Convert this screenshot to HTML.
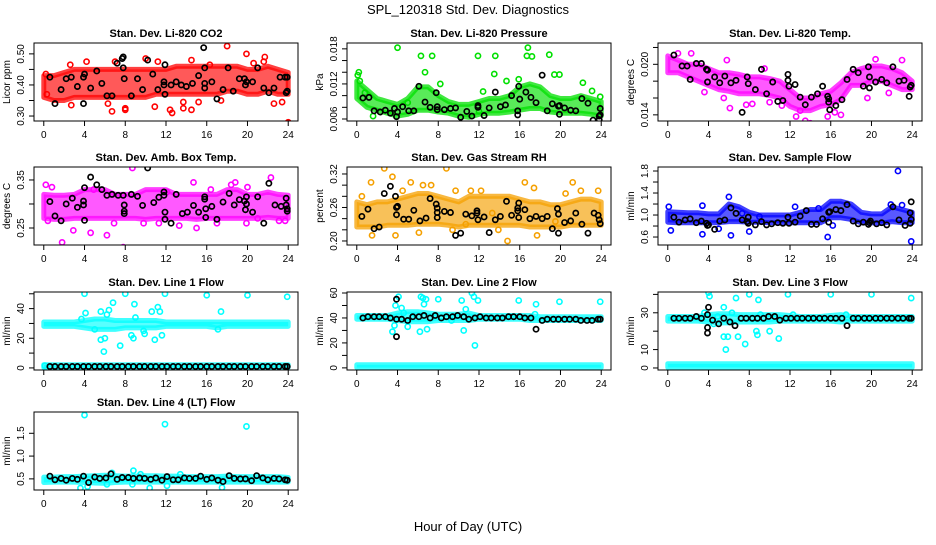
<!DOCTYPE html>
<html><head><meta charset="utf-8">
<style>
html,body{margin:0;padding:0;background:#fff;}
svg text{font-family:"Liberation Sans",Arial,sans-serif;}
</style></head>
<body>
<svg id="chart" width="936" height="540" viewBox="0 0 936 540" xmlns="http://www.w3.org/2000/svg">
<rect width="936" height="540" fill="#fff"/>
<text x="468" y="14" font-size="13" text-anchor="middle">SPL_120318  Std. Dev. Diagnostics</text>
<text x="468" y="531" font-size="13" text-anchor="middle">Hour of Day (UTC)</text>
</svg>
<script>
const hours = [0,1,2,3,4,5,6,7,8,9,10,11,12,13,14,15,16,17,18,19,20,21,22,23,24];
const xTicks = [0,4,8,12,16,20,24];
const blackHours = [0.6,1.1,1.7,2.2,2.8,3.3,3.9,4.4,5.0,5.5,6.1,6.6,7.2,7.7,8.3,8.8,9.4,9.9,10.5,11.0,11.6,12.1,12.7,13.2,13.8,14.3,14.9,15.4,16.0,16.5,17.1,17.6,18.2,18.7,19.3,19.8,20.4,20.9,21.5,22.0,22.6,23.1,23.7];

// CO2
const co2Lo = [0.36,0.35,0.35,0.36,0.36,0.36,0.36,0.36,0.36,0.36,0.36,0.37,0.37,0.37,0.37,0.37,0.37,0.37,0.38,0.38,0.37,0.37,0.38,0.37,0.37];
const co2Hi = [0.43,0.43,0.44,0.45,0.45,0.45,0.45,0.45,0.45,0.45,0.45,0.45,0.45,0.46,0.46,0.46,0.46,0.46,0.46,0.46,0.45,0.45,0.46,0.45,0.44];
const co2Pts = [[6.7,0.315],[8,0.32],[8,0.325],[12.4,0.32],[12.6,0.31],[13.7,0.345],[13.7,0.325],[14.5,0.32],[18,0.525],[19.9,0.50],[21.7,0.49],[21.6,0.475],[24,0.28],[10,0.485],[14.5,0.48],[7,0.475],[4.2,0.475],[2.6,0.465],[23.4,0.345],[22.6,0.34],[20.6,0.47],[11.2,0.475],[16.3,0.465],[2.7,0.335],[6.3,0.34],[10.9,0.33],[15.2,0.345],[17.4,0.35],[0.2,0.435],[0.3,0.37]];
const co2Blk = [[0.6,0.425],[1.1,0.34],[1.7,0.385],[2.2,0.42],[2.7,0.425],[3.3,0.395],[3.9,0.425],[3.9,0.34],[4.0,0.435],[4.6,0.39],[5.2,0.445],[5.7,0.405],[6.2,0.365],[6.7,0.365],[7.2,0.47],[7.7,0.485],[7.8,0.49],[7.8,0.455],[7.9,0.42],[8.6,0.365],[9.2,0.42],[9.7,0.385],[10.2,0.48],[10.7,0.435],[11.2,0.385],[11.8,0.41],[11.8,0.40],[11.9,0.465],[11.9,0.37],[12.5,0.40],[13.0,0.41],[13.5,0.40],[14.0,0.395],[14.6,0.405],[15.2,0.43],[15.7,0.52],[15.8,0.405],[15.8,0.39],[15.8,0.455],[16.5,0.41],[17.0,0.355],[17.6,0.385],[18.1,0.455],[18.6,0.38],[19.2,0.42],[19.7,0.42],[19.8,0.40],[19.9,0.41],[20.5,0.41],[21.0,0.455],[21.6,0.39],[22.1,0.375],[22.6,0.39],[23.2,0.425],[23.7,0.425],[23.8,0.375],[23.9,0.38],[23.9,0.425]];
const co2Ticks = [0.30,0.35,0.40,0.45,0.50];
const co2Labels = ["0.30","","0.40","","0.50"];

// Pressure
const presLo = [0.0095,0.008,0.0075,0.007,0.0065,0.0068,0.0075,0.0075,0.0072,0.007,0.0065,0.0063,0.0068,0.007,0.007,0.0072,0.0075,0.0078,0.0078,0.0072,0.007,0.007,0.007,0.0068,0.0065];
const presHi = [0.0125,0.011,0.0095,0.009,0.0085,0.0095,0.0115,0.0115,0.010,0.009,0.0085,0.0085,0.009,0.0095,0.0095,0.0100,0.0115,0.012,0.0115,0.010,0.0095,0.0095,0.0100,0.0095,0.009];
const presPts = [[4,0.0182],[6.3,0.0168],[7.4,0.0168],[6.7,0.014],[11.9,0.0168],[13.6,0.0168],[13.5,0.0137],[16.8,0.0182],[16.7,0.0168],[17.2,0.0167],[18.9,0.017],[19.4,0.0136],[19.9,0.0136],[14.7,0.0125],[15.9,0.0128],[22.2,0.0122],[23.1,0.0108],[23.9,0.0098],[0.1,0.0135],[0.2,0.014],[0.3,0.0125],[5.0,0.0088],[12.4,0.0107],[8.2,0.0120],[1.6,0.0065],[12,0.0073],[0.8,0.0105]];
const presBlk = [[0.6,0.0096],[1.2,0.0097],[1.7,0.0074],[2.3,0.0072],[2.8,0.0075],[3.3,0.0070],[3.7,0.0078],[3.9,0.0064],[4,0.0072],[4.5,0.0081],[5.1,0.0074],[5.6,0.0074],[6.1,0.0116],[6.7,0.0089],[7.2,0.0080],[7.8,0.0105],[7.9,0.0081],[7.9,0.0076],[8.6,0.0076],[9.2,0.0078],[9.7,0.0079],[10.2,0.0063],[10.8,0.0073],[11.3,0.0065],[11.9,0.0083],[11.9,0.0080],[12.5,0.0066],[13.0,0.0079],[13.6,0.0106],[14.1,0.0081],[14.6,0.0084],[15.2,0.0100],[15.8,0.0074],[15.8,0.0067],[15.9,0.0116],[16.0,0.0094],[16.6,0.0106],[17.1,0.0097],[17.6,0.0088],[18.2,0.0135],[18.7,0.0074],[19.2,0.0086],[19.8,0.0082],[19.9,0.0068],[19.9,0.0083],[20.4,0.0079],[21.0,0.0075],[21.5,0.0074],[22.1,0.0095],[22.7,0.0087],[23.2,0.0058],[23.8,0.0059],[23.8,0.0065],[23.9,0.0078],[23.9,0.0067]];
const presTicks = [0.006,0.008,0.010,0.012,0.014,0.016,0.018];
const presLabels = ["0.006","","","0.012","","","0.018"];

// Li-820 Temp
const tempLo = [0.019,0.019,0.0185,0.018,0.0175,0.017,0.0168,0.0165,0.0165,0.0165,0.0163,0.016,0.015,0.0145,0.0145,0.015,0.0152,0.0158,0.0175,0.0175,0.018,0.018,0.0175,0.017,0.017];
const tempHi = [0.021,0.0205,0.020,0.020,0.0195,0.019,0.019,0.0188,0.0185,0.0185,0.0183,0.018,0.017,0.016,0.016,0.0165,0.0168,0.0178,0.019,0.0195,0.0198,0.0198,0.0195,0.019,0.018];
const tempPts = [[1,0.0213],[2.3,0.0213],[6.1,0.0148],[7.7,0.0152],[8.3,0.0153],[10.0,0.0155],[11.2,0.0151],[12.6,0.0138],[13.5,0.0133],[14.0,0.0130],[15.7,0.0138],[16.4,0.0143],[3.6,0.0167],[5.5,0.016],[9.5,0.0195],[17.0,0.0140],[19.6,0.016],[21.7,0.0166],[23.0,0.0205],[20.4,0.0206],[13.0,0.0145],[5.8,0.0205]];
const tempBlk = [[0.6,0.0211],[1.4,0.0198],[1.9,0.0198],[2.2,0.0182],[2.8,0.0201],[3.3,0.0201],[3.8,0.0194],[3.9,0.0193],[3.9,0.0179],[4.6,0.0185],[5.1,0.0178],[5.6,0.0186],[6.2,0.0178],[6.7,0.0181],[7.3,0.0143],[7.8,0.0185],[7.9,0.0177],[8.6,0.0170],[9.2,0.0194],[9.7,0.0165],[10.3,0.0179],[10.8,0.0156],[11.3,0.0157],[11.8,0.0188],[11.8,0.0181],[11.9,0.0174],[12.5,0.0176],[13.0,0.0161],[13.5,0.0152],[14.1,0.0161],[14.7,0.0165],[15.2,0.0174],[15.7,0.0162],[15.8,0.0159],[15.8,0.0155],[15.9,0.0146],[16.5,0.0151],[17.1,0.0158],[17.6,0.0182],[18.2,0.0194],[18.7,0.0190],[19.2,0.0174],[19.7,0.0197],[19.8,0.0185],[19.8,0.0172],[20.4,0.0179],[21.0,0.0182],[21.5,0.0178],[22.1,0.0197],[22.7,0.0180],[23.2,0.0181],[23.7,0.0162],[23.8,0.0173],[23.9,0.0175]];
const tempTicks = [0.014,0.016,0.018,0.020,0.022];
const tempLabels = ["0.014","","","0.020",""];

// Amb box temp
const ambLo = [0.27,0.268,0.268,0.27,0.27,0.27,0.27,0.27,0.27,0.27,0.268,0.27,0.27,0.27,0.27,0.268,0.27,0.27,0.27,0.27,0.27,0.27,0.272,0.27,0.27];
const ambHi = [0.32,0.318,0.318,0.32,0.33,0.33,0.33,0.32,0.32,0.32,0.33,0.33,0.33,0.32,0.32,0.32,0.32,0.32,0.33,0.33,0.32,0.32,0.325,0.32,0.318];
const ambPts = [[0.2,0.34],[0.8,0.335],[1.8,0.22],[4.6,0.24],[6.2,0.235],[7.8,0.21],[8.7,0.375],[9.8,0.26],[11.3,0.26],[13.3,0.255],[15.0,0.25],[16.4,0.33],[18.4,0.34],[18.8,0.345],[19.9,0.26],[22.3,0.355],[23.1,0.265],[23.7,0.265],[0.4,0.265],[2.9,0.245],[4.9,0.33],[6.9,0.26],[12.1,0.325],[17.0,0.26],[21,0.27],[14.7,0.345],[20.0,0.335]];
const ambBlk = [[0.6,0.305],[1.1,0.275],[1.7,0.265],[2.2,0.30],[2.8,0.312],[3.3,0.293],[3.9,0.306],[3.9,0.298],[4.0,0.334],[4.0,0.266],[4.6,0.356],[5.2,0.34],[5.7,0.33],[6.2,0.318],[6.7,0.32],[7.3,0.318],[7.8,0.318],[7.9,0.298],[7.9,0.285],[7.9,0.28],[8.6,0.32],[9.2,0.316],[9.7,0.297],[10.2,0.375],[10.8,0.303],[11.3,0.314],[11.8,0.325],[11.8,0.318],[11.9,0.283],[11.9,0.268],[12.5,0.26],[13.0,0.32],[13.6,0.28],[14.1,0.283],[14.7,0.297],[15.2,0.283],[15.8,0.315],[15.8,0.31],[15.9,0.272],[15.9,0.29],[16.5,0.295],[17.0,0.268],[17.6,0.304],[18.2,0.322],[18.7,0.298],[19.2,0.309],[19.7,0.306],[19.8,0.288],[19.9,0.315],[19.9,0.30],[20.5,0.283],[21.0,0.315],[21.6,0.26],[22.1,0.343],[22.7,0.298],[23.3,0.295],[23.8,0.312],[23.8,0.298],[23.9,0.285],[23.9,0.29]];
const ambTicks = [0.25,0.30,0.35];
const ambLabels = ["0.25","","0.35"];

// Gas stream RH
const rhLo = [0.225,0.225,0.225,0.228,0.228,0.228,0.23,0.23,0.23,0.228,0.225,0.228,0.228,0.228,0.228,0.228,0.228,0.225,0.225,0.225,0.225,0.228,0.228,0.228,0.228];
const rhHi = [0.27,0.265,0.27,0.27,0.275,0.28,0.285,0.285,0.28,0.275,0.27,0.28,0.28,0.28,0.28,0.28,0.275,0.27,0.27,0.265,0.265,0.27,0.275,0.275,0.27];
const rhPts = [[0.5,0.28],[1.4,0.305],[1.5,0.21],[2.7,0.33],[3.5,0.315],[4.5,0.29],[5.3,0.305],[6.5,0.30],[7.3,0.30],[8.8,0.33],[9.7,0.29],[12.2,0.29],[13.3,0.25],[14.6,0.34],[14.8,0.2],[16.5,0.305],[17.4,0.295],[17.7,0.21],[19.5,0.235],[20.5,0.285],[21.2,0.305],[22.0,0.29],[23.7,0.29],[11.2,0.29],[3.8,0.21],[9.4,0.22],[10.7,0.23],[13.9,0.22],[6.1,0.215]];
const rhBlk = [[0.5,0.244],[1.1,0.257],[1.7,0.222],[2.2,0.225],[2.7,0.285],[3.3,0.298],[3.8,0.28],[3.9,0.26],[3.9,0.247],[4.0,0.262],[4.6,0.239],[5.1,0.239],[5.6,0.255],[6.2,0.236],[6.8,0.241],[7.2,0.276],[7.8,0.266],[7.9,0.259],[7.9,0.251],[7.9,0.242],[8.6,0.253],[9.2,0.251],[9.7,0.210],[10.2,0.214],[10.7,0.248],[11.3,0.245],[11.8,0.25],[11.8,0.254],[11.9,0.238],[12.5,0.243],[13.0,0.215],[13.6,0.238],[14.1,0.244],[14.7,0.271],[15.2,0.246],[15.8,0.254],[15.8,0.259],[15.9,0.268],[15.9,0.242],[16.5,0.256],[17.0,0.24],[17.6,0.244],[18.2,0.24],[18.7,0.244],[19.2,0.222],[19.7,0.258],[19.8,0.248],[19.8,0.214],[20.4,0.233],[21.0,0.236],[21.5,0.25],[22.1,0.230],[22.7,0.214],[23.3,0.250],[23.7,0.246],[23.8,0.238],[23.9,0.231]];
const rhTicks = [0.20,0.22,0.24,0.26,0.28,0.30,0.32];
const rhLabels = ["0.20","","","0.26","","","0.32"];

// Sample flow
const sfLo = [0.87,0.86,0.86,0.86,0.86,0.86,0.88,0.88,0.87,0.87,0.86,0.86,0.86,0.86,0.86,0.86,0.95,0.95,0.92,0.86,0.86,0.85,0.88,0.86,0.86];
const sfHi = [1.06,1.05,1.04,1.04,1.02,1.02,1.2,1.15,1.05,1.0,1.0,1.0,1.0,1.05,1.1,1.1,1.25,1.25,1.2,1.05,1.02,1.02,1.15,1.1,1.05];
const sfPts = [[0.1,1.15],[0.3,0.72],[3.4,1.17],[3.4,0.65],[5.0,0.75],[6.0,1.33],[6.2,0.63],[8.0,0.70],[15.7,0.60],[22.6,1.8],[23.9,0.52],[12.5,1.15],[14.8,1.12],[16.2,0.81],[21.9,1.19],[23,1.18],[7.3,1.03],[9,0.97]];
const sfBlk = [[0.6,0.96],[1.1,0.87],[1.7,0.91],[2.2,0.93],[2.8,0.86],[3.3,0.89],[3.8,0.85],[3.9,0.81],[4.0,0.82],[4.6,0.74],[5.1,0.89],[5.6,0.91],[6.2,1.13],[6.7,1.03],[7.3,0.91],[7.8,0.88],[7.9,0.96],[7.9,0.85],[8.6,0.82],[9.2,0.88],[9.7,0.82],[10.2,0.84],[10.8,0.86],[11.3,0.85],[11.8,0.96],[11.9,0.85],[12.5,0.87],[13.0,0.98],[13.6,1.08],[14.1,0.83],[14.6,0.83],[15.2,0.93],[15.8,0.87],[15.8,1.05],[15.9,1.06],[16.5,1.10],[17.0,1.08],[17.6,1.19],[18.2,0.89],[18.7,0.84],[19.2,0.87],[19.7,0.83],[19.8,0.86],[19.9,0.89],[20.5,0.84],[21.0,0.86],[21.5,0.82],[22.1,1.15],[22.7,0.91],[23.3,0.81],[23.8,0.85],[23.8,1.04],[23.9,1.24],[23.9,0.92]];
const sfTicks = [0.6,0.8,1.0,1.2,1.4,1.6,1.8];
const sfLabels = ["0.6","","1.0","","1.4","","1.8"];

// Line 1
const l1Lo = [28,28,28,28,27,26,26,26,27,27,27,27,28,28,28,28,28,27,28,28,28,28,28,28,28];
const l1Hi = [31,31,31,31,32,33,33,32,32,32,32,32,31,31,31,31,31,31,31,31,31,31,31,31,31];
const l1ZeroLo = [0.3,0.3,0.3,0.3,0.3,0.3,0.3,0.3,0.3,0.3,0.3,0.3,0.3,0.3,0.3,0.3,0.3,0.3,0.3,0.3,0.3,0.3,0.3,0.3,0.3];
const l1ZeroHi = [2.2,2.2,2.2,2.2,2.2,2.2,2.2,2.2,2.2,2.2,2.2,2.2,2.2,2.2,2.2,2.2,2.2,2.2,2.2,2.2,2.2,2.2,2.2,2.2,2.2];
const l1Pts = [[4,50],[4.1,37],[3.7,33],[5.6,38],[5.6,19],[5.9,11],[6.2,36],[6.4,39],[6.8,44],[7.5,15],[8,50],[8.6,22],[8.8,20],[8.9,43],[9.0,34],[9.8,25],[9.9,23],[10.6,38],[10.9,19],[11.2,41],[11.4,38],[11.6,22],[11.9,50],[16.0,49],[17.4,38],[17.1,26],[20.0,49],[23.9,48],[5.0,26],[6.0,20],[0.1,1.5]];
const l1BlkVals = [1,1,1,1,1,1,1,1,1,1,1,1,1,1,1,1,1,1,1,1,1,1,1,1,1,1,1,1,1,1,1,1,1,1,1,1,1,1,1,1,1,1,1];
const l1Extra = [[23.9,1]];
const l1Ticks = [0,10,20,30,40,50];
const l1Labels = ["0","","20","","40",""];

// Line 2
const l2Lo = [39,39,39,39,38,37,37,37,38,38,38,38,39,39,39,39,39,38,38,38,38,38,38,38,38];
const l2Hi = [42,42,42,42,44,45,45,44,43,43,43,44,42,42,42,42,42,42,41,41,41,41,41,41,41];
const l2ZeroLo = [0.2,0.2,0.2,0.2,0.2,0.2,0.2,0.2,0.2,0.2,0.2,0.2,0.2,0.2,0.2,0.2,0.2,0.2,0.2,0.2,0.2,0.2,0.2,0.2,0.2];
const l2ZeroHi = [2.5,2.5,2.5,2.5,2.5,2.5,2.5,2.5,2.5,2.5,2.5,2.5,2.5,2.5,2.5,2.5,2.5,2.5,2.5,2.5,2.5,2.5,2.5,2.5,2.5];
const l2Pts = [[3.5,29],[3.7,34],[3.8,50],[4.1,57],[4.4,48],[4.6,44],[5.0,33],[5.4,40],[6.2,29],[6.3,57],[6.5,56],[6.6,51],[6.9,31],[6.8,55],[8.0,55],[9.3,38],[10.3,54],[10.5,30],[10.7,47],[11.3,60],[11.5,57],[11.6,18],[11.9,54],[15.9,54],[17.5,43],[17.6,51],[19.9,53],[23.9,53]];
const l2BlkVals = [40,41,41,41,41,40,39,39,38,41,41,42,40,42,40,41,41,42,41,39,40,41,40,40,40,40,41,41,41,40,40,31,38,39,39,39,39,39,39,38,38,38,39];
const l2Extra = [[3.9,55],[3.9,25],[23.9,39]];
const l2Ticks = [0,10,20,30,40,50,60];
const l2Labels = ["0","","20","","40","","60"];

// Line 3
const l3Lo = [25.5,25.5,25.5,25.5,25,24.5,24.5,25,25,25,25,25.5,25.5,25.5,25.5,25.5,25.5,25,25.5,25.5,25.5,25.5,25.5,25.5,25.5];
const l3Hi = [28,28,28,28,29,29.5,29.5,29,29,29,29,29,28.5,28,28,28,28.5,29,28,28,28,28,28,28,28];
const l3ZeroLo = [0.3,0.3,0.3,0.3,0.3,0.3,0.3,0.3,0.3,0.3,0.3,0.3,0.3,0.3,0.3,0.3,0.3,0.3,0.3,0.3,0.3,0.3,0.3,0.3,0.3];
const l3ZeroHi = [2.3,2.3,2.3,2.3,2.3,2.3,2.3,2.3,2.3,2.3,2.3,2.3,2.3,2.3,2.3,2.3,2.3,2.3,2.3,2.3,2.3,2.3,2.3,2.3,2.3];
const l3Pts = [[3.6,30],[4.0,41],[4.1,39],[5.5,33],[5.5,17],[5.7,10],[5.9,17],[6.7,38],[6.9,17],[7.6,13],[8,40],[8.9,37],[8.7,20],[8.8,18],[9.1,29],[10.0,20],[10.9,16],[11.8,40],[12.3,29],[16.0,40],[17.5,29],[20.0,40],[23.9,38],[4.9,28],[6.3,30],[4.5,24]];
const l3BlkVals = [27,27,27,27,28,27,22,26,24,27,25,23,27,27,27,27,27,28,28,26,27,27,27,27,27,27,27,27,27,27,27,23,27,27,27,27,27,27,27,27,27,27,27];
const l3Extra = [[3.9,19],[4.0,33],[3.9,29],[23.9,27]];
const l3Ticks = [0,10,20,30,40];
const l3Labels = ["0","10","","30",""];

// Line 4
const l4Lo = [0.42,0.43,0.43,0.43,0.42,0.41,0.40,0.42,0.43,0.43,0.43,0.43,0.43,0.43,0.43,0.43,0.43,0.43,0.43,0.43,0.43,0.43,0.43,0.43,0.43];
const l4Hi = [0.54,0.54,0.55,0.55,0.56,0.57,0.58,0.57,0.56,0.56,0.57,0.57,0.56,0.56,0.55,0.55,0.55,0.55,0.56,0.55,0.55,0.55,0.55,0.55,0.53];
const l4Pts = [[4,1.9],[11.9,1.7],[19.9,1.65],[3.6,0.3],[4.3,0.33],[8.8,0.68],[10.4,0.3],[12.1,0.35],[17.5,0.31],[6.7,0.63],[9.5,0.6],[13.4,0.6],[8.7,0.38],[6.2,0.38]];
const l4BlkVals = [0.56,0.48,0.51,0.47,0.51,0.49,0.56,0.42,0.54,0.51,0.52,0.61,0.49,0.53,0.53,0.51,0.52,0.51,0.49,0.52,0.47,0.55,0.48,0.48,0.52,0.51,0.51,0.56,0.49,0.52,0.47,0.44,0.57,0.51,0.5,0.5,0.46,0.57,0.52,0.48,0.51,0.5,0.48];
const l4Extra = [[23.9,0.47]];
const l4Ticks = [0.5,1.0,1.5];
const l4Labels = ["0.5","1.0","1.5"];

const svg = document.getElementById('chart');
const NS = 'http://www.w3.org/2000/svg';
function mk(tag, attrs){ const e=document.createElementNS(NS,tag); for(const k in attrs) e.setAttribute(k,attrs[k]); return e; }

const COLX=[34,347,658], ROWY=[43,167,292,412], W=264, H=78;

const panels = [
 {id:'co2', title:'Stan. Dev. Li-820 CO2', ylab:'Licor ppm', c:0,r:0, ymin:0.284,ymax:0.535, col:'#ff0000', lo:co2Lo,hi:co2Hi,pts:co2Pts,blk:co2Blk,ticks:co2Ticks,labels:co2Labels},
 {id:'pressure', title:'Stan. Dev. Li-820 Pressure', ylab:'kPa', c:1,r:0, ymin:0.00566,ymax:0.0190, col:'#00e000', lo:presLo,hi:presHi,pts:presPts,blk:presBlk,ticks:presTicks,labels:presLabels},
 {id:'temp', title:'Stan. Dev. Li-820 Temp.', ylab:'degrees C', c:2,r:0, ymin:0.01327,ymax:0.02253, col:'#ff00ff', lo:tempLo,hi:tempHi,pts:tempPts,blk:tempBlk,ticks:tempTicks,labels:tempLabels},
 {id:'amb-temp', title:'Stan. Dev. Amb. Box Temp.', ylab:'degrees C', c:0,r:1, ymin:0.2146,ymax:0.377, col:'#ff00ff', lo:ambLo,hi:ambHi,pts:ambPts,blk:ambBlk,ticks:ambTicks,labels:ambLabels},
 {id:'rh', title:'Stan. Dev. Gas Stream RH', ylab:'percent', c:1,r:1, ymin:0.1928,ymax:0.3325, col:'#f5a000', lo:rhLo,hi:rhHi,pts:rhPts,blk:rhBlk,ticks:rhTicks,labels:rhLabels},
 {id:'sample-flow', title:'Stan. Dev. Sample Flow', ylab:'ml/min', c:2,r:1, ymin:0.455,ymax:1.873, col:'#0000ff', lo:sfLo,hi:sfHi,pts:sfPts,blk:sfBlk,ticks:sfTicks,labels:sfLabels},
 {id:'line1', title:'Stan. Dev. Line 1 Flow', ylab:'ml/min', c:0,r:2, ymin:-1.4,ymax:51.2, col:'#00ffff', lo:l1Lo,hi:l1Hi,zlo:l1ZeroLo,zhi:l1ZeroHi,pts:l1Pts,blkVals:l1BlkVals,extra:l1Extra,ticks:l1Ticks,labels:l1Labels},
 {id:'line2', title:'Stan. Dev. Line 2 Flow', ylab:'ml/min', c:1,r:2, ymin:-1.7,ymax:60.8, col:'#00ffff', lo:l2Lo,hi:l2Hi,zlo:l2ZeroLo,zhi:l2ZeroHi,pts:l2Pts,blkVals:l2BlkVals,extra:l2Extra,ticks:l2Ticks,labels:l2Labels},
 {id:'line3', title:'Stan. Dev. Line 3 Flow', ylab:'ml/min', c:2,r:2, ymin:-1.1,ymax:41.3, col:'#00ffff', lo:l3Lo,hi:l3Hi,zlo:l3ZeroLo,zhi:l3ZeroHi,pts:l3Pts,blkVals:l3BlkVals,extra:l3Extra,ticks:l3Ticks,labels:l3Labels},
 {id:'line4', title:'Stan. Dev. Line 4 (LT) Flow', ylab:'ml/min', c:0,r:3, ymin:0.256,ymax:1.967, col:'#00ffff', lo:l4Lo,hi:l4Hi,pts:l4Pts,blkVals:l4BlkVals,extra:l4Extra,ticks:l4Ticks,labels:l4Labels}
];

panels.forEach(p=>{
  const x0=COLX[p.c], y0=ROWY[p.r];
  const g=mk('g',{});
  
  
  svg.appendChild(g);
  const sx=t=>x0+(t+0.96)/25.92*W;
  const sy=v=>y0+H-(v-p.ymin)/(p.ymax-p.ymin)*H;
  const clip='clip-'+p.id;
  const cp=mk('clipPath',{id:clip}); cp.appendChild(mk('rect',{x:x0,y:y0,width:W,height:H})); g.appendChild(cp);
  const inner=mk('g',{'clip-path':'url(#'+clip+')'}); g.appendChild(inner);
  function band(lo,hi,name){
    let d='M'+hours.map((h,i)=>sx(h).toFixed(1)+','+sy(hi[i]).toFixed(1)).join(' L');
    d+=' L'+hours.slice().reverse().map((h,j)=>{const i=hours.length-1-j;return sx(h).toFixed(1)+','+sy(lo[i]).toFixed(1);}).join(' L')+' Z';
    const b=mk('path',{d:d,fill:p.col,'fill-opacity':0.65,stroke:p.col,'stroke-opacity':0.75,'stroke-width':5,'stroke-linejoin':'round'});
    
    
    inner.appendChild(b);
  }
  band(p.lo,p.hi,p.id+'-density-band');
  if(p.zlo) band(p.zlo,p.zhi,p.id+'-zero-band');
  p.pts.forEach(pt=>{
    const c=mk('circle',{cx:sx(pt[0]),cy:sy(pt[1]),r:2.6,fill:'none',stroke:p.col,'stroke-width':1.6});
    
    
    inner.appendChild(c);
  });
  let blk=p.blk;
  if(!blk){ blk=blackHours.map((t,i)=>[t,p.blkVals[i]]).concat(p.extra); }
  blk.forEach(pt=>{
    const c=mk('circle',{cx:sx(pt[0]),cy:sy(pt[1]),r:2.6,fill:'none',stroke:'#000','stroke-width':1.7});
    
    
    inner.appendChild(c);
  });
  const box=mk('rect',{x:x0,y:y0,width:W,height:H,fill:'none',stroke:'#000','stroke-width':1});
  
  
  g.appendChild(box);
  const tt=mk('text',{x:x0+W/2,y:y0-6,'font-size':11,'font-weight':'bold','text-anchor':'middle'});
  tt.textContent=p.title;
  
  
  g.appendChild(tt);
  const yl=mk('text',{x:x0-24,y:y0+H/2,'font-size':10,'text-anchor':'middle',transform:'rotate(-90 '+(x0-24)+' '+(y0+H/2)+')'});
  yl.textContent=p.ylab;
  
  
  g.appendChild(yl);
  xTicks.forEach(t=>{
    const x=sx(t);
    g.appendChild(mk('line',{x1:x,y1:y0+H,x2:x,y2:y0+H+5,stroke:'#000'}));
    const l=mk('text',{x:x,y:y0+H+17,'font-size':10,'text-anchor':'middle'});
    l.textContent=String(t);
    
    
    g.appendChild(l);
  });
  p.ticks.forEach((v,i)=>{
    const y=sy(v);
    g.appendChild(mk('line',{x1:x0,y1:y,x2:x0-5,y2:y,stroke:'#000'}));
    if(p.labels[i]){
      const l=mk('text',{x:x0-10,y:y,'font-size':10,'text-anchor':'middle',transform:'rotate(-90 '+(x0-10)+' '+y+')'});
      l.textContent=p.labels[i];
      
      
      g.appendChild(l);
    }
  });
});
</script>
</body></html>
